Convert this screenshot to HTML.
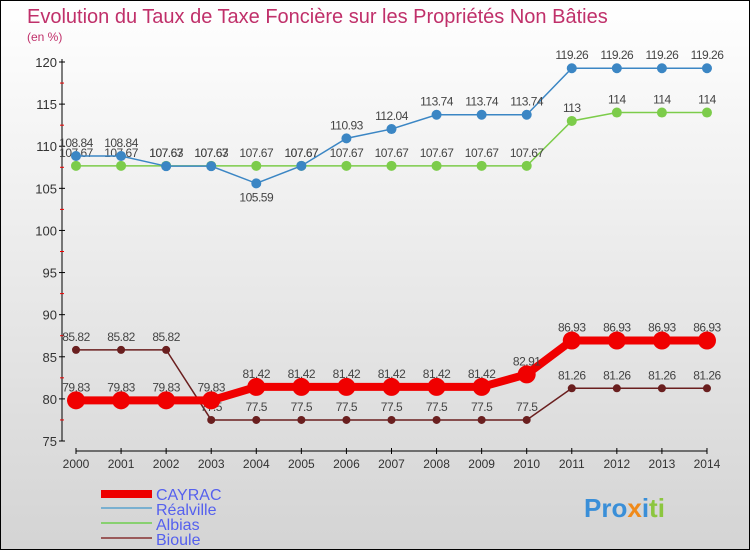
<!DOCTYPE html>
<html><head><meta charset="utf-8"><style>
body{margin:0}
#c{width:748px;height:548px;border:1px solid #000;background:linear-gradient(#fff,#d4d4d4);position:relative;font-family:"Liberation Sans",sans-serif;overflow:hidden}
</style></head><body>
<div id="c">
<svg id="s" width="748" height="548" style="position:absolute;left:0;top:0">
<text x="26" y="22" font-size="20" fill="#c0306a">Evolution du Taux de Taxe Foncière sur les Propriétés Non Bâties</text>
<text x="26" y="40" font-size="12" fill="#c0306a">(en %)</text>
<g id="ax"></g><g id="ser"></g>
<g>
<rect x="100" y="489" width="51" height="8" fill="#e00"/>
<text x="155" y="499" font-size="16" fill="#5560ee">CAYRAC</text>
<rect x="100" y="506" width="51" height="2" fill="#7ab0d0"/>
<text x="155" y="514" font-size="16" fill="#5560ee">Réalville</text>
<rect x="100" y="521" width="51" height="2" fill="#88d070"/>
<text x="155" y="529" font-size="16" fill="#5560ee">Albias</text>
<rect x="100" y="536" width="51" height="2" fill="#9a5a5a"/>
<text x="155" y="544" font-size="16" fill="#5560ee">Bioule</text>
</g>
<text x="583" y="516" font-size="26" font-weight="bold"><tspan fill="#3a8fd8">Pro</tspan><tspan fill="#f08a1a">x</tspan><tspan fill="#3a8fd8">i</tspan><tspan fill="#8cc63f">ti</tspan></text>
</svg>
</div>
<script>
const years=[2000,2001,2002,2003,2004,2005,2006,2007,2008,2009,2010,2011,2012,2013,2014];
const yTicks=[75,80,85,90,95,100,105,110,115,120];
const cayrac=[79.83,79.83,79.83,79.83,81.42,81.42,81.42,81.42,81.42,81.42,82.91,86.93,86.93,86.93,86.93];
const realville=[108.84,108.84,107.63,107.63,105.59,107.67,110.93,112.04,113.74,113.74,113.74,119.26,119.26,119.26,119.26];
const albias=[107.67,107.67,107.67,107.67,107.67,107.67,107.67,107.67,107.67,107.67,107.67,113,114,114,114];
const bioule=[85.82,85.82,85.82,77.5,77.5,77.5,77.5,77.5,77.5,77.5,77.5,81.26,81.26,81.26,81.26];
const NS="http://www.w3.org/2000/svg";
const X=i=>75+i*45.07, Y=v=>440-(v-75)*(379/45);
function mk(t,a,p){const e=document.createElementNS(NS,t);for(const k in a)e.setAttribute(k,a[k]);(p||document.getElementById('ser')).appendChild(e);return e;}
const ax=document.getElementById('ax');
let e=mk('line',{x1:61,y1:58,x2:61,y2:440,stroke:'#000'},ax);

e=mk('line',{x1:75,y1:450,x2:706,y2:450,stroke:'#000'},ax);

yTicks.forEach(v=>{mk('line',{x1:58,x2:64,y1:Y(v),y2:Y(v),stroke:'#000'},ax);
 if(v<120)mk('line',{x1:59,x2:63,y1:Y(v+2.5),y2:Y(v+2.5),stroke:'#e00'},ax);
 const t=mk('text',{x:56,y:Y(v)+5,'font-size':13,fill:'#333','text-anchor':'end'},ax);t.textContent=v;
 });
years.forEach((y,i)=>{mk('line',{x1:X(i),x2:X(i),y1:447,y2:453,stroke:'#000'},ax);
 const t=mk('text',{x:X(i),y:467,'font-size':12,fill:'#333','text-anchor':'middle'},ax);t.textContent=y;
 });
function series(d,name,col,w,r,below){
 const pts=d.map((v,i)=>X(i)+','+Y(v)).join(' ');
 const l=mk('polyline',{points:pts,fill:'none',stroke:col,'stroke-width':w});
 
 d.forEach((v,i)=>{const c=mk('circle',{cx:X(i),cy:Y(v),r:r,fill:col});
  
  const b=below&&below(v,i);
  const t=mk('text',{x:X(i),y:Y(v)+(b?18:-9),'font-size':12,fill:'#444','text-anchor':'middle','letter-spacing':'-0.5'});
  t.textContent=v;});
}
series(bioule,'bioule','#6a1f1f',1.5,4);
series(albias,'albias','#7ccc4a',1.5,5);
series(realville,'realville','#3b86c4',1.5,5,(v,i)=>v<107);
series(cayrac,'cayrac','#f00000',8,9);
</script>
</body></html>
